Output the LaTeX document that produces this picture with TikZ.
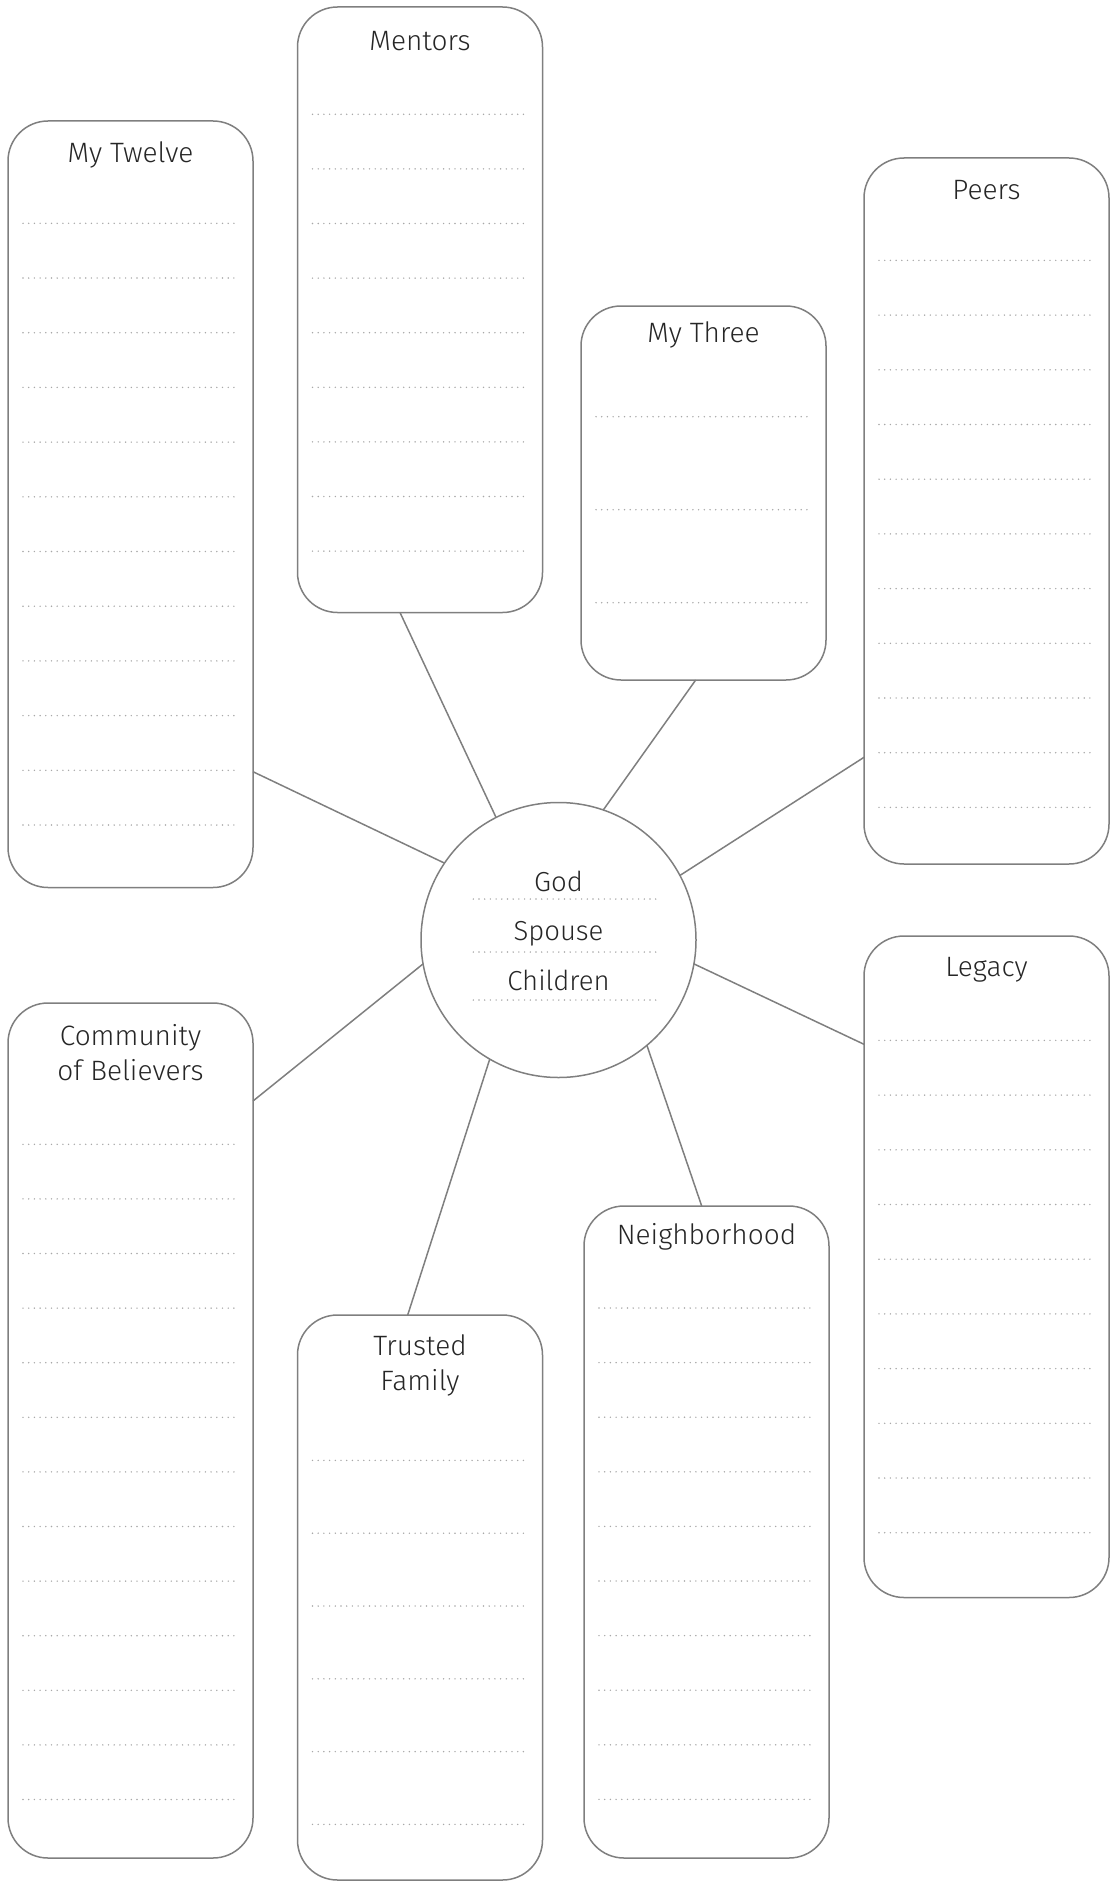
\documentclass[tikz,border=0pt]{standalone}
\usepackage{fontspec}
\setmainfont{Fira Sans}[UprightFont={* Light}]
\usetikzlibrary{calc}
\definecolor{edge}{HTML}{7F7F7F}
\definecolor{ink}{HTML}{262626}
\definecolor{dotc}{HTML}{A8A8A8}
\tikzset{
  box/.style={draw=edge, line width=1.5pt, rounded corners=40pt, minimum width=245pt, inner sep=0pt, outer sep=0pt},
  hub/.style={circle, draw=edge, line width=1.5pt, minimum size=275pt, inner sep=0pt, outer sep=0pt},
  link/.style={draw=edge, line width=1.5pt},
  title/.style={text=ink, font=\fontsize{28}{35}\selectfont, inner sep=0pt, anchor=base},
  hubtext/.style={text=ink, font=\fontsize{27.5}{34}\selectfont, inner sep=0pt, anchor=base},
  dotline/.style={draw=dotc, line width=1.6pt, line cap=round, dash pattern=on 0pt off 5.7pt},
}
\newcommand\dotrows[4]{%
  \foreach \k in {0,...,#4}{%
    \draw[dotline] ($(#1.north west)+(15,{#2+#3*\k})$) -- ($(#1.north east)+(-15,{#2+#3*\k})$);
  }}
\newcommand\twolines[2]{\begin{tabular}[t]{@{}c@{}}#1\\#2\end{tabular}}
\begin{document}
\begin{tikzpicture}[x=1pt,y=-1pt]
\useasboundingbox (0,0) rectangle (1110,1881);

% boxes
\node[box, minimum height=766.5pt] (twelve) at (130.5,504.25) {};
\node[box, minimum height=605.5pt] (mentors) at (420,309.75) {};
\node[box, minimum height=374pt] (three) at (703.5,493) {};
\node[box, minimum height=706pt] (peers) at (986.5,511) {};
\node[box, minimum height=661.5pt] (legacy) at (986.5,1266.75) {};
\node[box, minimum height=855pt] (community) at (130.5,1430.5) {};
\node[box, minimum height=565pt] (trusted) at (420,1597.5) {};
\node[box, minimum height=652pt] (neighborhood) at (706.5,1532) {};

% hub
\node[hub] (hub) at (558.5,940) {};

% titles
\node[title] (twelve-t) at (130.5,163) {My Twelve};
\node[title] (mentors-t) at (420,51) {Mentors};
\node[title] (three-t) at (703.5,342) {My Three};
\node[title] (peers-t) at (986.5,200) {Peers};
\node[title] (legacy-t) at (986.5,976) {Legacy};
\node[title] (neighborhood-t) at (706.5,1244) {Neighborhood};
\node[title] (community-t) at (130.5,1045) {\twolines{Community}{of Believers}};
\node[title] (trusted-t) at (420,1355) {\twolines{Trusted}{Family}};

% hub text
\node[hubtext] (god) at (558.5,891) {God};
\node[hubtext] (spouse) at (558.5,940) {Spouse};
\node[hubtext] (children) at (558.5,990) {Children};
\foreach \yy in {899,952,1000}{
  \draw[dotline] (473.3,\yy) -- (657.3,\yy);
}

% dotted rows
\dotrows{twelve}{102.3}{54.7}{11}
\dotrows{mentors}{107.3}{54.6}{8}
\dotrows{three}{110.7}{93}{2}
\dotrows{peers}{102.4}{54.7}{10}
\dotrows{legacy}{104.4}{54.7}{9}
\dotrows{community}{141.3}{54.6}{12}
\dotrows{trusted}{145.4}{72.8}{5}
\dotrows{neighborhood}{102}{54.6}{9}

% connectors
\draw[link] (twelve.east |- 0,771.7) -- (hub.146);
\draw[link] (mentors.south -| 400,0) -- (hub.117);
\draw[link] (three.south -| 695.7,0) -- (hub.71);
\draw[link] (peers.west |- 0,757.3) -- (hub.28);
\draw[link] (legacy.west |- 0,1044.3) -- (hub.350);
\draw[link] (neighborhood.north -| 701.7,0) -- (hub.310);
\draw[link] (trusted.north -| 407.7,0) -- (hub.240);
\draw[link] (community.east |- 0,1101) -- (hub.190);
\end{tikzpicture}
\end{document}
